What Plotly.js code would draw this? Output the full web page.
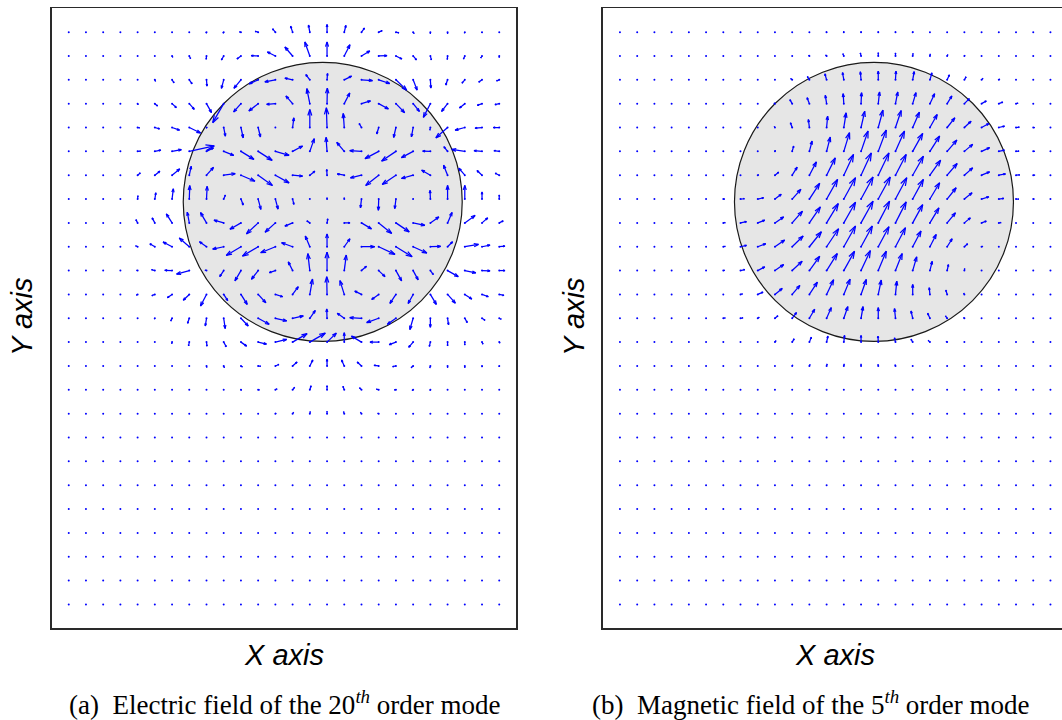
<!DOCTYPE html>
<html>
<head>
<meta charset="utf-8">
<script src="https://cdn.plot.ly/plotly-3.0.1.min.js"></script>
<style>
  html, body { margin: 0; padding: 0; overflow: hidden; background: #fff; }
  #chart { width: 1080px; height: 720px; }
</style>
</head>
<body>
<div id="chart"></div>
<script>
// Sampling grid (column index left to right, row index bottom to top)
const xGrid = [0,1,2,3,4,5,6,7,8,9,10,11,12,13,14,15,16,17,18,19,20,21,22,23,24,25];
const yGrid = [24,23,22,21,20,19,18,17,16,15,14,13,12,11,10,9,8,7,6,5,4,3,2,1,0];

// Dielectric cylinder cross-section (grid units)
const cylinderX = 14.75, cylinderY = 16.88;
const cylinderRX = 8.1, cylinderRY = 5.85;

// Electric field of the 20th order mode, x and y components (rows top to bottom)
const eFieldX = [
  [0,0,0,0,0,0,0,0,-0.5,-0.7,-1.5,-3,-2.8,-2,-1.3,0,1.7,3,3.5,3,1,0,0,-0.3,-0.3,0],
  [0,0,0,0,0,0,0.7,1.3,-0.3,-2.3,-4,-7,-8,-7.7,-5,0,5.7,8.3,8.3,6,3.3,1,-0.3,-1.3,-1.3,0],
  [0,0,0,0,0,0.7,2,2.8,0.5,-2.3,-7,-9,-10.5,-7.7,-4,0.5,7.3,11,11,10.7,4,0.5,-1.8,-2.8,-3.3,-2.7],
  [0,0,0,0,0.5,2.7,4.3,5,5,-11,-7.3,-9.3,-8.7,-6.7,-3,0.3,5.5,9,9.7,8.7,6.3,-7,-6,-5.3,-4.7,-4.3],
  [0,0,0,0,2,4.7,7.5,11.3,0.5,1.7,2.3,2.3,0.3,1.3,0,-0.7,-1,-2.3,-2,-2.3,-1.7,-0.5,-11.7,-9.7,-7,-6],
  [0,0,0,0,3,6,9.3,25,7,10,13,14,13.7,10,4.5,-1,-7.5,-11.7,-13.7,-14.3,-11.7,-7.7,-3.7,-13,-8,-5.3],
  [0,0,0,0,2.7,5,7.7,2,7,11.5,14,14.3,13.7,10,5,-0.3,-7,-11,-13,-13.7,-11.7,-8.7,-4,-6,-5,-4],
  [0,0,0,0,0.3,1,1.3,0.5,0.7,1.7,2.3,2.7,2.7,1.3,0,0,0,-1,-0.3,-1.2,-0.3,-0.3,0,0,0,0],
  [0,0,0,0,-1.7,-2.7,-5.7,-2,-6,-9.7,-11,-11.7,-10.3,-7.7,-3,0.7,5.7,10,13,13.3,11.7,8.5,4.5,10.3,5.7,4],
  [0,0,0,0,-2,-5,-9,-10,-7,-11,-14.7,-15.7,-14.7,-11,-4.5,0,5.7,13.3,16.3,16.2,13.7,10.3,5,13.7,8,5.7],
  [0,0,0,0,-1,-3.3,-7.3,-12.7,-1.5,-4,-6,-6.7,-6,-4.3,-2,0,2,5,6.3,5.7,5,3,10.7,11,8,5.7],
  [0,0,0,0,-1.3,-3,-4.7,-6,-6,4,6.3,7.7,7.3,5.7,2.7,-0.3,-4.3,-6.7,-7,-6,-5,6,7.8,7,6.3,4.7],
  [0,0,0,0,0,-0.5,-1.3,-1.7,-1.2,1.5,7.3,11,11.3,10.7,5.5,-0.3,-7,-11.7,-12,-8.5,-3.3,0,1,2.5,3,2],
  [0,0,0,0,0,0,-0.3,-0.7,0.5,2.5,5.7,8.3,11.3,14.5,15.5,9.3,0,-10,-8.7,-6.7,-4.5,-1,0,0,1,0.7],
  [0,0,0,0,0,0,0,0,0.3,0.7,1.5,2.5,3.5,4.5,3,0,-2.7,-4.3,-4.7,-3.3,-2,-0.5,0,0,0.3,0],
  [0,0,0,0,0,0,0,0,0,0,0.7,1.3,1.7,2,1.3,0,-1.3,-2,-2.3,-1.7,-1,-0.3,0,0,0,0],
  [0,0,0,0,0,0,0,0,0,0,0,0,0.7,1,0.5,0,-0.7,-1,-1,0,0,0,0,0,0,0],
  [0,0,0,0,0,0,0,0,0,0,0,0,0,0,0,0,0,0,0,0,0,0,0,0,0,0],
  [0,0,0,0,0,0,0,0,0,0,0,0,0,0,0,0,0,0,0,0,0,0,0,0,0,0],
  [0,0,0,0,0,0,0,0,0,0,0,0,0,0,0,0,0,0,0,0,0,0,0,0,0,0],
  [0,0,0,0,0,0,0,0,0,0,0,0,0,0,0,0,0,0,0,0,0,0,0,0,0,0],
  [0,0,0,0,0,0,0,0,0,0,0,0,0,0,0,0,0,0,0,0,0,0,0,0,0,0],
  [0,0,0,0,0,0,0,0,0,0,0,0,0,0,0,0,0,0,0,0,0,0,0,0,0,0],
  [0,0,0,0,0,0,0,0,0,0,0,0,0,0,0,0,0,0,0,0,0,0,0,0,0,0],
  [0,0,0,0,0,0,0,0,0,0,0,0,0,0,0,0,0,0,0,0,0,0,0,0,0,0]
];
const eFieldY = [
  [0,0,0,0,0,0,0,0,-1,-1,0.3,0.7,3.3,6,7,7.7,6.7,4,1.5,-0.7,-1.5,-1.5,-1.5,-1,-0.7,0],
  [0,0,0,0,0,0,-1.3,-2.7,-3.3,-4,-3,0.3,4,9,14,14,11.3,5,0.3,-3,-4,-4,-3.5,-3,-2,-1.5],
  [0,0,0,0,0,-1.5,-3,-4,-6.3,-8.5,-8.5,-4,-2,1.7,5.3,6.3,3.7,-0.7,-3.7,-10.3,-10.3,-8.2,-5.2,-3.3,-2.3,-1],
  [0,0,0,0,-1,-2.3,-4,-5.7,-9,-19,-8.3,-7.3,-0.7,7.7,15,15.5,10.7,2.7,-5.3,-9,-7.7,-13.7,-7.8,-4.3,-1.7,-1],
  [0,0,0,0,-0.3,-1.3,-2.7,-5.5,-0.5,-8.7,-10.3,-9.5,0.3,9.7,18,19.7,14,4,-6.5,-10,-9.3,-2.7,-10.3,-2.7,-0.7,0],
  [0,0,0,0,0.3,1.3,1.7,5.5,3.5,-4,-8,-9,-4,5.3,12.7,14,9,0.7,-7.3,-9.7,-6.3,0.3,4.7,2,0.7,0.7],
  [0,0,0,0,2.3,4,6.3,9,7.8,1.5,-6,-10.3,-7.7,-1,4,5.7,1.3,-2.7,-10.3,-9.3,-3.3,5,10,7,4.7,2],
  [0,0,0,0,3.3,6.3,10.3,13.5,12.7,4,-6,-10.3,-10,-5.3,0.3,1.3,1.3,-8.7,-11.3,-9.5,0.3,8.7,13.7,13.7,7,4],
  [0,0,0,0,3.3,5,9,10.7,10.3,2.7,-6.3,-11,-9.3,-3.3,2,4,0,-6,-10.5,-9,-2.5,6,10.5,7.5,5,2],
  [0,0,0,0,1,3,4.7,8.7,5,-2.3,-8.7,-9.3,-6,4,10.7,12.8,8,0,-7.7,-10,-6.3,0.3,5,2.3,1.7,0.7],
  [0,0,0,0,0.3,1,0.3,-3.5,0.5,-6,-10.3,-8.7,-2,8.7,17,18.5,15.5,4.3,-6,-10.3,-9.3,-4,-6,-2.3,-0.3,0],
  [0,0,0,0,-0.7,-1.2,-3.3,-5.8,-11.5,-6.2,-10,-8.3,-2.3,7.7,15.3,17.7,13.8,3.3,-5,-9,-9,-10,-8.7,-4.6,-2.3,-1],
  [0,0,0,0,0,-0.7,-2.7,-5,-7.7,-10.3,-7.7,-6,-2.7,2.3,7.8,9.3,5,0.7,-4.3,-6,-11.3,-9,-6.5,-4.3,-2,-1],
  [0,0,0,0,0,0,-1.5,-3.7,-4,-4.7,-4,-2,2.7,8.5,9,9,9.3,6,0,-2.5,-5.2,-4.3,-3.7,-3,-2,-1],
  [0,0,0,0,0,0,0,0,-1.5,-1.7,-1,-0.3,1.5,4,6,6.7,6,4,0.7,-0.7,-1.7,-2,-1.7,-1.7,-1,-0.7],
  [0,0,0,0,0,0,0,0,0,0,-0.3,0,1,2.5,4,4,3.5,2,0.7,0,-0.7,-0.7,0,0,0,0],
  [0,0,0,0,0,0,0,0,0,0,0,0,0.5,1.3,2,2.3,2,1.3,0.3,0,0,0,0,0,0,0],
  [0,0,0,0,0,0,0,0,0,0,0,0,0,0,0,0,0,0,0,0,0,0,0,0,0,0],
  [0,0,0,0,0,0,0,0,0,0,0,0,0,0,0,0,0,0,0,0,0,0,0,0,0,0],
  [0,0,0,0,0,0,0,0,0,0,0,0,0,0,0,0,0,0,0,0,0,0,0,0,0,0],
  [0,0,0,0,0,0,0,0,0,0,0,0,0,0,0,0,0,0,0,0,0,0,0,0,0,0],
  [0,0,0,0,0,0,0,0,0,0,0,0,0,0,0,0,0,0,0,0,0,0,0,0,0,0],
  [0,0,0,0,0,0,0,0,0,0,0,0,0,0,0,0,0,0,0,0,0,0,0,0,0,0],
  [0,0,0,0,0,0,0,0,0,0,0,0,0,0,0,0,0,0,0,0,0,0,0,0,0,0],
  [0,0,0,0,0,0,0,0,0,0,0,0,0,0,0,0,0,0,0,0,0,0,0,0,0,0]
];

// Magnetic field of the 5th order mode, x and y components (rows top to bottom)
const hFieldX = [
  [0,0,0,0,0,0,0,0,0,0,0,0,-0.5,-0.3,0,0,0,0.3,0,0,0,0,0,0,0,0],
  [0,0,0,0,0,0,0,0,0,0,0,-0.7,-1,-1,-0.7,0,0,0.3,0.3,0.7,0.5,0,0,0,0,0],
  [0,0,0,0,0,0,0,0,0,0,-1.5,-2,-1.7,-1.3,-0.7,0,0.5,1.5,2,2.3,1.7,1.3,1,0,0,0],
  [0,0,0,0,0,0,0,0,0,-1,-2.3,-2.3,-1.3,-0.7,0.5,1.3,2.3,3.3,4.7,4.7,5,4.7,4,2,0,0],
  [0,0,0,0,0,0,0,0,0,-0.7,-1.7,-1,1,2.3,3.7,4.7,5.7,6.7,7.3,7.7,6.7,7.3,5.7,3.3,1.5,0],
  [0,0,0,0,0,0,0,0,0,0.5,1.5,2.7,3.7,5.7,7,8,9,10,9.7,9.7,8.3,8,5.7,3,1.5,0],
  [0,0,0,0,0,0,0,0,1,3.7,5,7,8.7,9.7,10.3,10.7,10.7,10.7,10.7,10,8.3,8,6.7,3.7,1.7,0],
  [0,0,0,0,0,0,1.5,4,6,6.3,8.7,10.3,11,11.7,12,12,11.3,10.7,9.7,9,7.7,7.3,5,2.7,1,0],
  [0,0,0,0,0,0,2,6,7,8.7,10.3,11,11.7,11.7,12,11.3,10.7,10,9,8.3,6,4.7,2.3,0,0,0],
  [0,0,0,0,0,0,2,6,8,9.7,11,12,12,11.7,11.3,10.7,10,8.3,6.3,5,3.3,1.3,0,0,0,0],
  [0,0,0,0,0,0,1.5,4.3,7,8.7,10,10.3,10.7,10.7,9.3,8,6.7,4,2.3,1.3,0.3,0,0,0,0,0],
  [0,0,0,0,0,0,0,2,5.3,7.3,7.7,8,7,6.3,5.3,3,1.3,0,-0.7,-1.3,-0.7,0,0,0,0,0],
  [0,0,0,0,0,0,2,2.5,1.5,3,4.3,5.3,4.7,4,2,0,-1,-1.7,-2.3,-1.7,-0.7,0,0,0,0,0],
  [0,0,0,0,0,0,0,0,0,1,2,2,1.3,0.7,0,-0.3,-1,-1.7,-1.7,-1,0,0,0,0,0,0],
  [0,0,0,0,0,0,0,0,0,0,0.5,0.7,0.5,0.3,0,-0.3,-0.5,0,0,0,0,0,0,0,0,0],
  [0,0,0,0,0,0,0,0,0,0,0,0,0,0,0,0,0,0,0,0,0,0,0,0,0,0],
  [0,0,0,0,0,0,0,0,0,0,0,0,0,0,0,0,0,0,0,0,0,0,0,0,0,0],
  [0,0,0,0,0,0,0,0,0,0,0,0,0,0,0,0,0,0,0,0,0,0,0,0,0,0],
  [0,0,0,0,0,0,0,0,0,0,0,0,0,0,0,0,0,0,0,0,0,0,0,0,0,0],
  [0,0,0,0,0,0,0,0,0,0,0,0,0,0,0,0,0,0,0,0,0,0,0,0,0,0],
  [0,0,0,0,0,0,0,0,0,0,0,0,0,0,0,0,0,0,0,0,0,0,0,0,0,0],
  [0,0,0,0,0,0,0,0,0,0,0,0,0,0,0,0,0,0,0,0,0,0,0,0,0,0],
  [0,0,0,0,0,0,0,0,0,0,0,0,0,0,0,0,0,0,0,0,0,0,0,0,0,0],
  [0,0,0,0,0,0,0,0,0,0,0,0,0,0,0,0,0,0,0,0,0,0,0,0,0,0],
  [0,0,0,0,0,0,0,0,0,0,0,0,0,0,0,0,0,0,0,0,0,0,0,0,0,0]
];
const hFieldY = [
  [0,0,0,0,0,0,0,0,0,0,0,0,0.5,0.7,0.7,0.7,0.7,0.5,0,0,0,0,0,0,0,0],
  [0,0,0,0,0,0,0,0,0,0,0,0.7,1,2.3,3,3.3,3,2.5,2,1.3,0.7,0,0,0,0,0],
  [0,0,0,0,0,0,0,0,0,0,1.3,3.3,6,7.3,8,8.7,8.7,8.3,7,5,3,1.5,0.7,0,0,0],
  [0,0,0,0,0,0,0,0,0,0.5,4,6,8.3,10,11,11.7,11.7,11,10,7.7,5,2.7,1.5,0.5,0,0],
  [0,0,0,0,0,0,0,0,0,1,4.7,8,11.3,14.7,16.3,17.3,17,15.3,13,9.7,6.3,4,1.3,0.3,0,0],
  [0,0,0,0,0,0,0,0,0,1,5.3,10.3,14.3,18.7,20.3,21.3,20.3,18,15.3,11.3,7,3.7,1.3,0.3,0,0],
  [0,0,0,0,0,0,0,0,0.5,3,8,13.3,17.3,20.7,22.3,22.3,20.7,19,15,11.7,7.3,3.3,1.3,0.3,0,0],
  [0,0,0,0,0,0,0,0.3,1.3,4.7,9.7,15.7,19.7,21.3,22,22,21.3,19.7,16.3,11.3,6.3,2.3,0.7,0,0,0],
  [0,0,0,0,0,0,0.3,1.3,2.7,6,11.7,16,19.3,20.7,21.7,21.7,21,18.3,15,10,5,1.7,0.3,0,0,0],
  [0,0,0,0,0,0,0.3,1.3,3,6.7,10.7,15,18,20.7,20.7,20,19,15.7,12.3,8,3,0.3,0,0,0,0],
  [0,0,0,0,0,0,0.3,1,3.7,6,9.3,14.3,17,19.3,20,19.3,17,13.7,9.3,6,2,0,0,0,0,0],
  [0,0,0,0,0,0,0,0.5,2.3,6,9,12.3,14.7,15.3,15,14.3,13.3,10,6.7,4.3,1.3,0,0,0,0,0],
  [0,0,0,0,0,0,0.3,0.5,1,2.5,5.7,9,10.7,11.7,11.7,10.7,9.7,7.3,5,2.3,0.7,0,0,0,0,0],
  [0,0,0,0,0,0,0,0,0,1.5,3.3,5,6,6.7,6.7,6,4.3,3,1.7,0.7,0,0,0,0,0,0],
  [0,0,0,0,0,0,0,0,0,0,1,1.5,2,2,2,1.7,1.3,0,0,0,0,0,0,0,0,0],
  [0,0,0,0,0,0,0,0,0,0,0,0,0,0,0,0,0,0,0,0,0,0,0,0,0,0],
  [0,0,0,0,0,0,0,0,0,0,0,0,0,0,0,0,0,0,0,0,0,0,0,0,0,0],
  [0,0,0,0,0,0,0,0,0,0,0,0,0,0,0,0,0,0,0,0,0,0,0,0,0,0],
  [0,0,0,0,0,0,0,0,0,0,0,0,0,0,0,0,0,0,0,0,0,0,0,0,0,0],
  [0,0,0,0,0,0,0,0,0,0,0,0,0,0,0,0,0,0,0,0,0,0,0,0,0,0],
  [0,0,0,0,0,0,0,0,0,0,0,0,0,0,0,0,0,0,0,0,0,0,0,0,0,0],
  [0,0,0,0,0,0,0,0,0,0,0,0,0,0,0,0,0,0,0,0,0,0,0,0,0,0],
  [0,0,0,0,0,0,0,0,0,0,0,0,0,0,0,0,0,0,0,0,0,0,0,0,0,0],
  [0,0,0,0,0,0,0,0,0,0,0,0,0,0,0,0,0,0,0,0,0,0,0,0,0,0],
  [0,0,0,0,0,0,0,0,0,0,0,0,0,0,0,0,0,0,0,0,0,0,0,0,0,0]
];

const xTitle = 'X axis';
const yTitle = 'Y axis';
const captions = [
  '(a)  Electric field of the 20<sup><i>th</i></sup> order mode',
  '(b)  Magnetic field of the 5<sup><i>th</i></sup> order mode'
];

// ---- figure geometry ----
const W = 1080, H = 720;
const xDomains = [[0.0477, 0.4782], [0.5581, 0.9886]];
const yDomain = [0.1274, 0.9885];
const xRange = [-1, 26], yRange = [-1, 25];

// screen pixels per axis unit, used to turn field components (1 unit = 1 px of arrow) into axis offsets
const pxPerX = (xDomains[0][1] - xDomains[0][0]) * W / (xRange[1] - xRange[0]);
const pxPerY = (yDomain[1] - yDomain[0]) * H / (yRange[1] - yRange[0]);

// quiver arrows: shaft from grid point plus a two-stroke head at the tip
function quiver(U, V) {
  const xs = [], ys = [];
  const alpha = 0.33, beta = 0.33;
  for (let r = 0; r < yGrid.length; r++) {
    for (let c = 0; c < xGrid.length; c++) {
      const u = U[r][c], v = V[r][c];
      if (u === 0 && v === 0) continue;
      const x0 = xGrid[c], y0 = yGrid[r];
      const tx = x0 + u / pxPerX, ty = y0 + v / pxPerY;
      xs.push(x0, tx, null); ys.push(y0, ty, null);
      const h1x = tx - alpha * (u + beta * v) / pxPerX;
      const h1y = ty - alpha * (v - beta * u) / pxPerY;
      const h2x = tx - alpha * (u - beta * v) / pxPerX;
      const h2y = ty - alpha * (v + beta * u) / pxPerY;
      xs.push(h1x, tx, h2x, null); ys.push(h1y, ty, h2y, null);
    }
  }
  return { xs, ys };
}

function gridDots() {
  const xs = [], ys = [];
  for (let r = 0; r < yGrid.length; r++)
    for (let c = 0; c < xGrid.length; c++) { xs.push(xGrid[c]); ys.push(yGrid[r]); }
  return { xs, ys };
}

const fields = [[eFieldX, eFieldY], [hFieldX, hFieldY]];
const traces = [];
const dots = gridDots();
fields.forEach((f, i) => {
  const q = quiver(f[0], f[1]);
  const xa = i === 0 ? 'x' : 'x2', ya = i === 0 ? 'y' : 'y2';
  traces.push({
    type: 'scatter', mode: 'markers', x: dots.xs, y: dots.ys, xaxis: xa, yaxis: ya,
    marker: { color: '#0000ff', size: 2 }, hoverinfo: 'skip'
  });
  traces.push({
    type: 'scatter', mode: 'lines', x: q.xs, y: q.ys, xaxis: xa, yaxis: ya,
    line: { color: '#0000ff', width: 1.25 }, hoverinfo: 'skip', connectgaps: false
  });
});

function axis(domain, anchor) {
  return {
    domain: domain, anchor: anchor, showgrid: false, zeroline: false,
    showticklabels: false, ticks: '', showline: true, mirror: true,
    linecolor: '#2a2a2a', linewidth: 1.3, fixedrange: true
  };
}

const layout = {
  width: W, height: H,
  margin: { l: 0, r: 0, t: 0, b: 0 },
  paper_bgcolor: '#ffffff', plot_bgcolor: '#ffffff',
  showlegend: false, hovermode: false,
  xaxis: Object.assign(axis(xDomains[0], 'y'), { range: xRange }),
  yaxis: Object.assign(axis(yDomain, 'x'), { range: yRange }),
  xaxis2: Object.assign(axis(xDomains[1], 'y2'), { range: xRange }),
  yaxis2: Object.assign(axis(yDomain, 'x2'), { range: yRange }),
  shapes: ['', '2'].map(s => ({
    type: 'circle', xref: 'x' + s, yref: 'y' + s, layer: 'below',
    x0: cylinderX - cylinderRX, x1: cylinderX + cylinderRX,
    y0: cylinderY - cylinderRY, y1: cylinderY + cylinderRY,
    fillcolor: '#e6e6e6', line: { color: '#1a1a1a', width: 1.2 }
  })),
  annotations: []
};

const sansItalic = { family: 'Liberation Sans, Arial, sans-serif', size: 29, color: '#000' };
const serif = { family: 'Liberation Serif, Times New Roman, serif', size: 27, color: '#000' };
[0, 1].forEach(i => {
  const d = xDomains[i];
  const mid = (d[0] + d[1]) / 2;
  layout.annotations.push({
    xref: 'paper', yref: 'paper', x: mid, y: 1 - 655 / H,
    text: '<i>' + xTitle + '</i>', showarrow: false, font: sansItalic,
    xanchor: 'center', yanchor: 'middle'
  });
  layout.annotations.push({
    xref: 'paper', yref: 'paper', x: (i === 0 ? 22 : 574) / W, y: 1 - 317 / H,
    text: '<i>' + yTitle + '</i>', showarrow: false, font: sansItalic, textangle: -90,
    xanchor: 'center', yanchor: 'middle'
  });
  layout.annotations.push({
    xref: 'paper', yref: 'paper', x: i === 0 ? 285 / W : 811 / W, y: 1 - 703 / H,
    text: captions[i], showarrow: false, font: serif,
    xanchor: 'center', yanchor: 'middle'
  });
});

Plotly.newPlot('chart', traces, layout, { displayModeBar: false, staticPlot: true });
</script>
</body>
</html>
